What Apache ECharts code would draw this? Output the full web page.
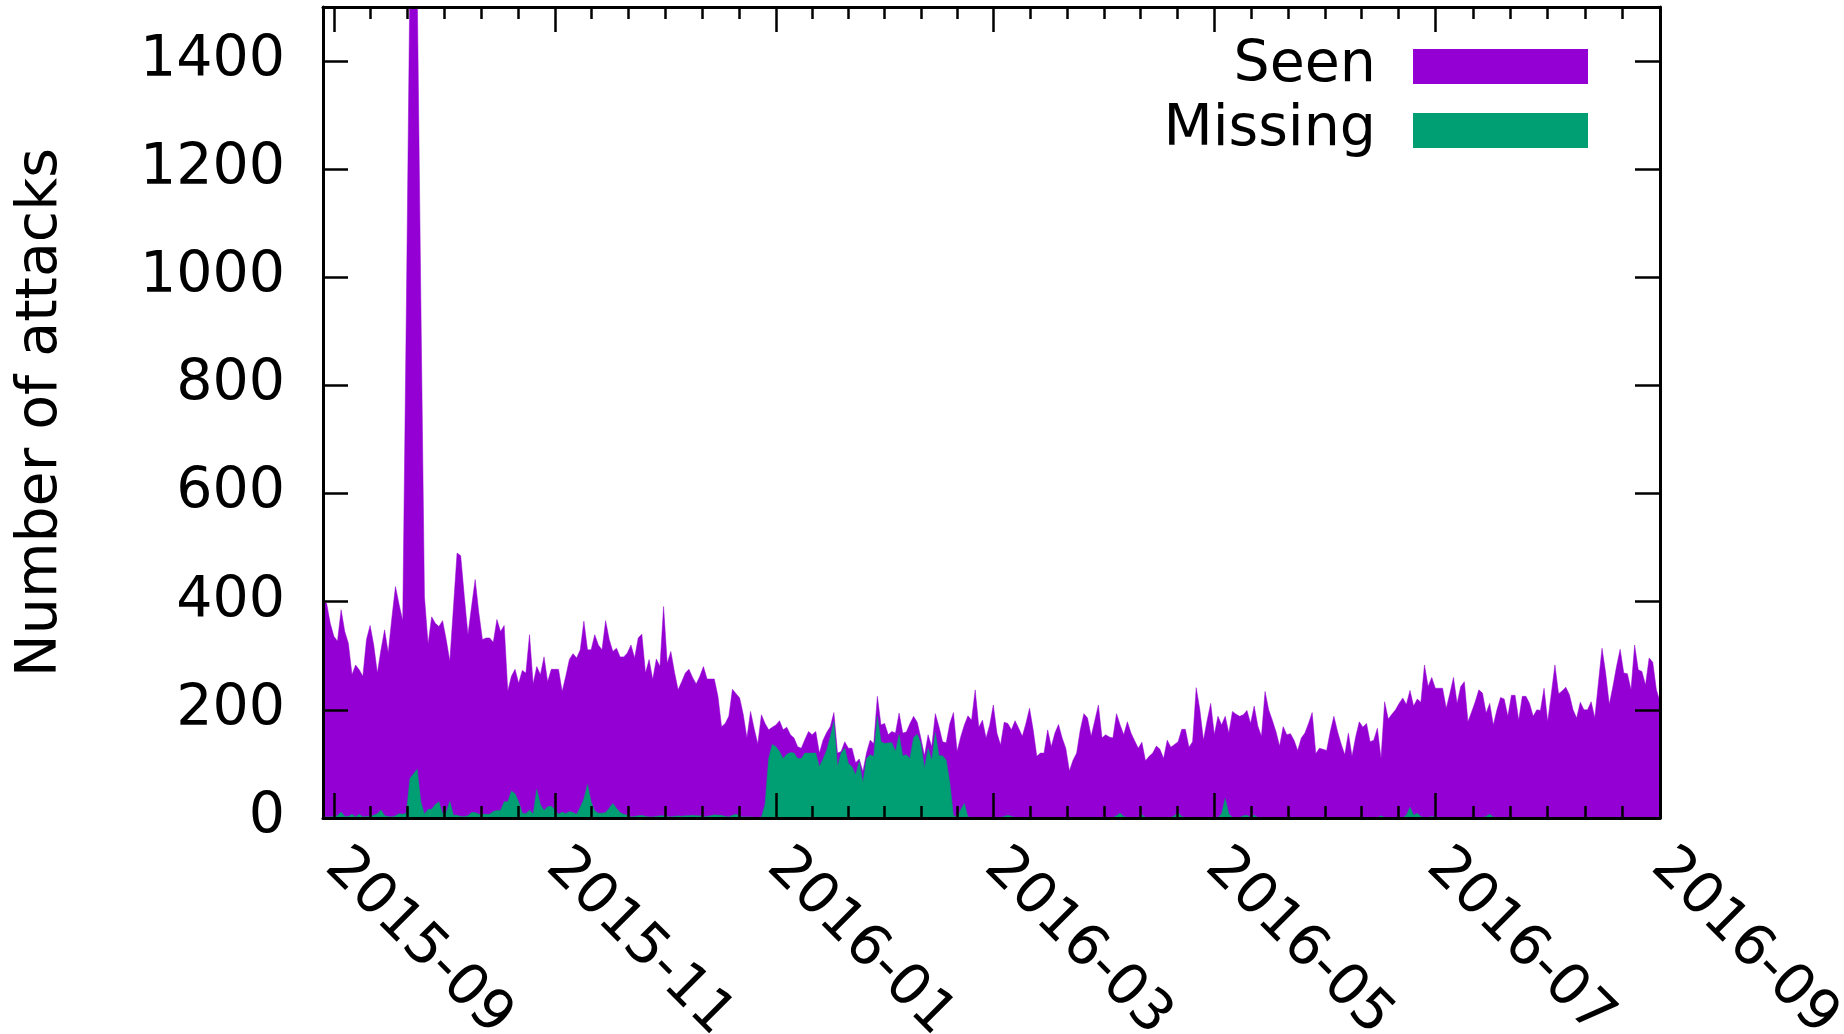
<!DOCTYPE html>
<html>
<head>
<meta charset="utf-8">
<title>Number of attacks</title>
<script src="https://cdn.jsdelivr.net/npm/echarts@6/dist/echarts.min.js"></script>
<style>
  html, body { margin: 0; padding: 0; background: #ffffff; }
  #chart { width: 1844px; height: 1034px; }
</style>
</head>
<body>
<div id="chart"></div>
<script>
// Daily counts, first value is for startDate, one value per day.
const startDate = '2015-08-29';

const seen = [
  400,397,360,336,327,385,345,323,265,283,
  274,262,330,356,320,268,311,348,305,370,
  428,395,365,940,1560,2100,1540,960,409,322,
  372,360,354,365,330,290,390,490,485,410,
  339,391,441,380,330,333,333,325,367,345,
  356,235,262,275,249,273,268,339,248,280,
  265,298,252,275,275,275,234,262,293,304,
  296,311,364,311,311,339,320,311,365,330,
  308,314,298,298,305,320,296,333,340,268,
  293,256,294,280,391,286,308,270,237,252,
  268,275,260,248,262,280,257,257,257,225,
  169,175,188,238,230,222,191,148,197,165,
  137,191,175,163,168,172,180,163,168,154,
  148,132,129,145,160,154,160,120,144,158,
  169,195,120,123,141,129,129,102,109,86,
  120,144,138,225,172,175,154,160,157,194,
  157,159,175,188,177,148,115,154,132,193,
  169,141,139,175,195,123,150,172,189,181,
  237,168,181,148,172,209,157,135,177,175,
  163,180,166,151,175,203,163,114,120,120,
  163,132,157,173,148,129,87,107,120,163,
  193,185,151,180,209,148,154,150,148,193,
  172,154,178,157,143,129,140,106,114,120,
  133,127,110,144,131,136,141,164,164,131,
  141,241,200,144,180,212,154,188,172,188,
  157,197,192,188,191,199,175,207,170,151,
  234,200,181,160,133,169,154,156,144,125,
  148,157,175,195,119,129,127,125,160,188,
  160,137,117,157,114,150,178,168,175,141,
  144,166,110,215,183,192,200,212,222,210,
  236,207,220,214,283,243,260,240,240,240,
  203,230,260,212,243,252,178,196,215,237,
  231,194,212,172,200,223,220,188,227,227,
  181,225,225,212,188,200,199,240,178,230,
  283,230,235,242,228,200,185,214,200,200,
  215,185,250,314,268,210,243,280,312,268,
  267,237,320,274,271,246,296,288,237,215
];

const missing = [
  2,2,2,3,4,11,3,3,7,2,
  7,2,3,3,5,8,15,4,3,2,
  4,8,7,9,73,82,90,30,7,16,
  16,25,30,8,10,31,5,5,3,3,
  4,10,10,7,7,7,7,12,14,14,
  30,30,50,45,30,9,8,15,7,53,
  25,14,21,22,15,7,11,8,12,10,
  7,20,35,62,30,13,9,9,10,18,
  27,18,10,7,5,2,3,4,5,3,
  2,2,3,4,4,3,2,3,4,3,
  4,4,5,4,4,3,3,4,6,5,
  5,3,2,5,7,3,2,2,2,1,
  1,2,25,110,136,132,123,110,118,121,
  120,110,110,120,120,120,120,95,109,125,
  150,178,95,120,129,101,95,80,104,65,
  110,117,114,188,141,138,139,139,123,154,
  115,117,110,149,155,138,92,129,107,158,
  115,115,107,65,4,2,15,27,2,1,
  1,1,1,1,1,1,1,1,3,5,
  3,1,1,1,1,1,1,1,1,1,
  1,1,1,1,1,1,1,1,1,1,
  1,1,1,1,1,1,1,1,1,4,
  9,3,1,1,1,1,6,1,1,1,
  1,1,1,1,1,4,10,3,1,1,
  1,1,1,1,1,1,1,1,8,36,
  8,1,1,1,4,5,1,5,1,1,
  1,1,1,1,1,1,1,1,1,1,
  1,1,1,1,1,1,1,1,1,1,
  1,1,1,1,1,1,1,1,1,1,
  1,1,4,1,1,1,1,1,1,5,
  20,5,9,3,1,1,3,1,1,1,
  1,1,1,1,1,1,1,1,1,1,
  1,3,7,2,1,1,1,1,1,1,
  1,1,1,1,1,1,1,1,1,1,
  1,1,1,1,1,1,1,1,1,1,
  1,1,1,1,1,1,1,1,1,1,
  1,1,1,1,1,1,1,1,1,1
];

// Labelled month ticks on the date axis (every second month).
const monthTicks = ['2015-09-01','2015-11-01','2016-01-01','2016-03-01','2016-05-01','2016-07-01','2016-09-01'];
const yTicks = [0, 200, 400, 600, 800, 1000, 1200, 1400];
const yMax = 1500;
const seriesNames = ['Seen', 'Missing'];

const DAY = 86400000;
const t0 = Date.parse(startDate + 'T00:00:00Z');
const toPairs = arr => arr.map((v, i) => [t0 + i * DAY, v]);
const xMin = t0;
const xMax = t0 + (seen.length - 1) * DAY;

const majors = monthTicks.map(s => Date.parse(s + 'T00:00:00Z'));
// six minor intervals between labelled ticks
const minors = [];
for (let i = 0; i < majors.length - 1; i++) {
  for (let k = 1; k < 6; k++) minors.push(majors[i] + (majors[i + 1] - majors[i]) * k / 6);
}

const pad2 = n => (n < 10 ? '0' : '') + n;
const fmtMonth = v => { const d = new Date(v); return d.getUTCFullYear() + '-' + pad2(d.getUTCMonth() + 1); };

const FONT = 'DejaVu Sans';
const FS = 57;
const BLACK = '#000000';
const lineW = 3;

// x values are epoch milliseconds on a plain numeric axis
function xAxisDef(position, ticks, tickLen, showLine, showLabel) {
  return {
    type: 'value', position: position, min: xMin, max: xMax, z: 10, scale: true,
    axisLine: { show: showLine, onZero: false, lineStyle: { color: BLACK, width: lineW } },
    axisTick: { show: true, inside: true, length: tickLen, customValues: ticks,
                lineStyle: { color: BLACK, width: 2.5 } },
    axisLabel: showLabel ? {
      show: true, customValues: majors, formatter: v => fmtMonth(v),
      rotate: -45, margin: 40, padding: [17, 0, 0, 0],
      fontSize: FS, fontFamily: FONT, color: BLACK, hideOverlap: false
    } : { show: false },
    splitLine: { show: false }, minorTick: { show: false }
  };
}

function yAxisDef(position, showLabel) {
  const ax = {
    type: 'value', position: position, min: 0, max: yMax, z: 10,
    axisLine: { show: true, onZero: false, lineStyle: { color: BLACK, width: lineW } },
    axisTick: { show: true, inside: true, length: 25, customValues: yTicks,
                lineStyle: { color: BLACK, width: 2.5 } },
    axisLabel: showLabel ? {
      show: true, customValues: yTicks, formatter: v => String(v),
      margin: 38, padding: [11, 0, 0, 0], fontSize: FS, fontFamily: FONT, color: BLACK
    } : { show: false },
    splitLine: { show: false }
  };
  if (showLabel) {
    ax.name = 'Number of attacks';
    ax.nameLocation = 'middle';
    ax.nameRotate = 90;
    ax.nameGap = 253;
    ax.nameTextStyle = { fontSize: FS, fontFamily: FONT, color: BLACK };
  }
  return ax;
}

const chart = echarts.init(document.getElementById('chart'), null, { renderer: 'canvas', width: 1844, height: 1034 });

chart.setOption({
  animation: false,
  backgroundColor: '#ffffff',
  grid: { left: 323, top: 7, width: 1337, height: 811, outerBoundsMode: 'none', containLabel: false },
  legend: {
    data: seriesNames, orient: 'vertical', align: 'right',
    right: 256, top: 38, padding: 0,
    itemWidth: 175, itemHeight: 35, itemGap: 7, icon: 'rect',
    itemStyle: { borderWidth: 0 },
    textStyle: { fontSize: FS, fontFamily: FONT, color: BLACK, padding: [12, 32, 0, 0] },
    selectedMode: false
  },
  xAxis: [
    xAxisDef('bottom', majors, 25, true, true),
    xAxisDef('bottom', minors, 12, false, false),
    xAxisDef('top', majors, 25, true, false),
    xAxisDef('top', minors, 12, false, false)
  ],
  yAxis: [yAxisDef('left', true), yAxisDef('right', false)],
  series: [
    {
      name: seriesNames[0], type: 'line', data: toPairs(seen), xAxisIndex: 0, yAxisIndex: 0,
      symbol: 'none', showSymbol: false, clip: true,
      itemStyle: { color: '#9400d3' },
      lineStyle: { width: 0.5, color: '#9400d3' },
      areaStyle: { color: '#9400d3', opacity: 1, origin: 'start' }
    },
    {
      name: seriesNames[1], type: 'line', data: toPairs(missing), xAxisIndex: 0, yAxisIndex: 0,
      symbol: 'none', showSymbol: false, clip: true,
      itemStyle: { color: '#009e73' },
      lineStyle: { width: 0.5, color: '#009e73' },
      areaStyle: { color: '#009e73', opacity: 1, origin: 'start' }
    }
  ]
});
</script>
</body>
</html>
